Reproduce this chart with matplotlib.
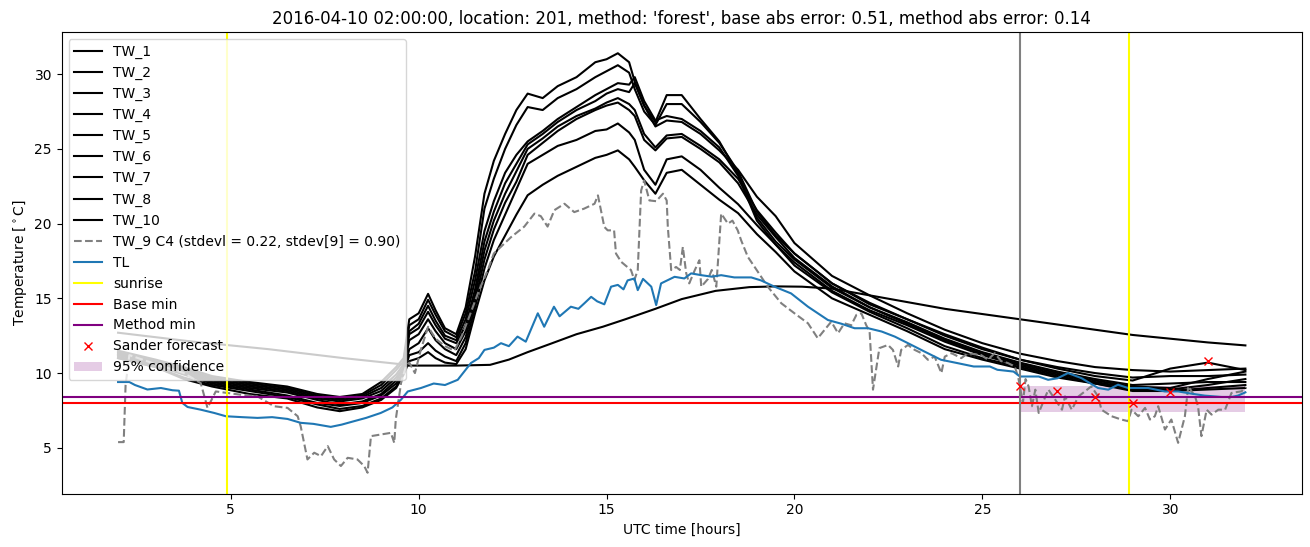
import matplotlib
matplotlib.use("Agg")
import matplotlib.pyplot as plt

# ---------------- data ----------------
tw_x = [2.0, 3.0, 3.75, 4.5, 5.5, 6.5, 7.3, 7.9, 8.5, 9.0,
        9.4, 9.6, 9.75, 10.0, 10.25, 10.45, 10.7, 11.0, 11.25, 11.5,
        11.75, 12.0, 12.3, 12.6, 12.9, 13.3, 13.7, 14.2, 14.7, 15.0,
        15.3, 15.6, 15.75, 16.0, 16.3, 16.6, 17.0, 17.5, 18.0, 18.5,
        19.0, 19.5, 20.0, 21.0, 22.0, 23.0, 24.0, 25.0, 26.0, 27.0,
        28.0, 29.0, 30.0, 31.0, 32.0]

tw_1 = [11.5, 10.9, 10.4, 9.8, 9.4, 9.1, 8.6, 8.4, 8.6, 9.4,
        10.4, 11.0, 13.6, 14.0, 15.3, 14.2, 13.0, 12.6, 14.4, 17.8,
        22.0, 24.2, 26.0, 27.6, 28.7, 28.4, 29.2, 29.8, 30.8, 31.0,
        31.4, 30.8, 29.5, 27.9, 26.8, 28.6, 28.6, 27.0, 25.5, 23.3,
        20.4, 18.8, 17.6, 15.7, 14.4, 13.4, 12.3, 11.4, 10.7, 10.1,
        9.6, 9.2, 9.3, 9.4, 9.4]
tw_2 = [11.4, 10.8, 10.3, 9.7, 9.3, 9.0, 8.5, 8.3, 8.5, 9.2,
        10.2, 10.8, 13.2, 13.6, 14.9, 13.9, 12.8, 12.4, 14.0, 16.8,
        21.0, 23.0, 25.0, 26.6, 27.8, 27.6, 28.4, 29.0, 29.8, 30.2,
        30.6, 30.1, 29.0, 27.5, 26.6, 28.0, 28.0, 26.8, 25.4, 23.5,
        20.8, 19.2, 18.0, 16.0, 14.7, 13.6, 12.6, 11.7, 10.9, 10.3,
        9.8, 9.5, 10.3, 10.7, 10.2]
tw_3 = [11.3, 10.7, 10.2, 9.6, 9.2, 8.9, 8.4, 8.2, 8.4, 9.0,
        9.9, 10.6, 12.8, 13.3, 14.5, 13.5, 12.5, 12.2, 13.6, 16.2,
        19.5, 21.5, 23.4, 24.6, 25.5, 26.2, 27.0, 27.8, 28.6, 29.0,
        29.4, 29.3, 29.8, 28.2, 26.9, 27.2, 27.0, 26.2, 25.1, 23.2,
        20.2, 18.6, 17.4, 15.5, 14.2, 13.2, 12.1, 11.2, 10.5, 9.9,
        9.4, 9.0, 8.9, 9.2, 9.6]
tw_4 = [11.3, 10.7, 10.1, 9.5, 9.1, 8.8, 8.3, 8.1, 8.3, 8.8,
        9.7, 10.4, 12.6, 13.0, 14.1, 13.2, 12.3, 12.0, 13.2, 15.6,
        18.8, 20.8, 22.7, 24.0, 25.3, 26.0, 26.8, 27.6, 28.2, 28.7,
        29.0, 28.8, 29.4, 27.9, 26.5, 26.9, 26.8, 26.0, 24.9, 23.6,
        21.8, 20.5, 18.7, 16.5, 15.2, 14.0, 12.9, 12.0, 11.3, 10.8,
        10.4, 10.2, 10.1, 10.2, 10.3]
tw_5 = [11.2, 10.6, 10.0, 9.4, 9.0, 8.7, 8.2, 7.9, 8.1, 8.6,
        9.5, 10.3, 12.2, 12.6, 13.6, 12.8, 12.0, 11.6, 12.8, 15.2,
        18.2, 20.2, 22.0, 23.5, 25.0, 25.7, 26.5, 27.2, 27.7, 28.1,
        28.4, 28.0, 27.6, 26.0, 25.1, 25.9, 26.0, 25.2, 24.3, 23.0,
        20.9, 19.4, 18.0, 16.0, 14.6, 13.6, 12.5, 11.6, 10.9, 10.4,
        10.0, 9.7, 9.8, 9.8, 9.9]
tw_6 = [11.1, 10.5, 9.9, 9.3, 8.9, 8.5, 8.0, 7.8, 8.0, 8.5,
        9.3, 10.1, 11.6, 12.0, 13.0, 12.2, 11.6, 11.2, 12.4, 14.8,
        17.6, 19.6, 21.4, 22.8, 24.6, 25.4, 26.2, 27.0, 27.6, 27.9,
        28.1, 27.6, 27.2, 25.6, 24.9, 25.7, 25.8, 25.0, 24.1, 22.7,
        20.6, 19.1, 17.7, 15.8, 14.4, 13.3, 12.2, 11.3, 10.6, 10.0,
        9.5, 9.1, 9.0, 9.6, 10.1]
tw_7 = [11.0, 10.4, 9.7, 9.2, 8.8, 8.4, 7.9, 7.6, 7.8, 8.3,
        9.1, 10.0, 11.2, 11.4, 12.0, 11.5, 11.1, 10.8, 12.0, 14.4,
        17.0, 18.9, 20.6, 22.3, 24.0, 24.6, 25.2, 25.6, 26.2, 26.3,
        26.7, 26.1, 25.6, 23.6, 22.6, 24.3, 24.5, 23.6, 22.4, 21.3,
        19.9, 18.6, 17.2, 15.4, 14.1, 13.0, 11.8, 11.0, 10.4, 9.8,
        9.3, 8.9, 8.8, 9.0, 9.2]
tw_8 = [11.0, 10.4, 9.6, 9.1, 8.6, 8.3, 7.7, 7.45, 7.7, 8.2,
        9.0, 9.9, 10.8, 11.0, 11.4, 11.0, 10.7, 10.6, 11.6, 14.0,
        16.2, 17.8, 19.2, 20.6, 21.9, 22.6, 23.2, 23.8, 24.4, 24.6,
        24.9, 24.3, 23.8, 22.9, 22.0, 23.4, 23.6, 22.6, 21.6, 20.7,
        19.3, 18.1, 16.8, 15.0, 13.9, 12.8, 11.6, 10.9, 10.3, 9.7,
        9.3, 8.8, 8.8, 8.9, 9.0]

tw_10_x = [2.0, 4.0, 6.0, 8.0, 9.5, 9.7, 11.0, 11.9, 12.4, 12.9,
           13.5, 14.2, 14.9, 15.5, 16.3, 17.0, 17.9, 18.8, 19.5, 20.2,
           21.0, 22.0, 23.0, 24.0, 25.0, 26.0, 27.0, 28.0, 29.0, 30.0,
           31.0, 32.0]
tw_10 = [12.7, 12.1, 11.6, 11.0, 10.6, 10.5, 10.5, 10.55, 10.9, 11.4,
         11.95, 12.6, 13.1, 13.6, 14.3, 14.95, 15.5, 15.75, 15.8, 15.78,
         15.65, 15.2, 14.75, 14.3, 13.95, 13.6, 13.25, 12.9, 12.55, 12.3,
         12.05, 11.85]

tw_9_x = [2.0, 2.15, 2.2, 2.3, 3.0, 3.75, 4.2, 4.38, 4.6, 5.27,
          5.71, 6.15, 6.51, 6.78, 6.86, 7.04, 7.22, 7.4, 7.58, 7.75,
          7.93, 8.11, 8.37, 8.55, 8.64, 8.73, 8.99, 9.26, 9.35, 9.39,
          9.53, 9.66, 9.75, 9.9, 10.05, 10.25, 10.45, 10.7, 10.95, 11.15,
          11.35, 11.6, 11.84, 12.0, 12.46, 12.81, 13.08, 13.25, 13.43, 13.61,
          13.88, 14.14, 14.4, 14.68, 14.77, 14.94, 15.03, 15.2, 15.25, 15.39,
          15.65, 15.74, 15.83, 15.92, 16.0, 16.14, 16.32, 16.5, 16.6, 16.63,
          16.72, 16.85, 16.95, 17.03, 17.12, 17.2, 17.35, 17.47, 17.52, 17.7,
          17.8, 17.92, 18.05, 18.23, 18.35, 18.49, 18.58, 18.76, 18.94, 19.29,
          19.65, 20.0, 20.36, 20.62, 20.98, 21.16, 21.33, 21.51, 21.65, 21.78,
          21.91, 22.0, 22.09, 22.26, 22.49, 22.62, 22.76, 22.84, 23.02, 23.2,
          23.38, 23.55, 23.73, 23.91, 24.0, 24.18, 24.44, 24.62, 24.97, 25.15,
          25.33, 25.5, 25.68, 25.86, 25.95, 26.08, 26.15, 26.23, 26.32, 26.41,
          26.5, 26.68, 26.76, 26.94, 27.12, 27.2, 27.38, 27.56, 27.9, 28.08,
          28.17, 28.44, 28.7, 28.88, 28.97, 29.15, 29.33, 29.46, 29.59, 29.68,
          29.86, 30.03, 30.21, 30.39, 30.48, 30.66, 30.74, 30.83, 30.97, 31.1,
          31.28, 31.46, 31.63, 31.9, 32.0]
tw_9 = [5.38, 5.38, 9.2, 11.2, 10.6, 10.0, 9.33, 7.67, 8.77, 8.55,
        8.44, 7.78, 7.67, 7.11, 6.44, 4.22, 4.67, 4.44, 5.11, 4.22,
        3.78, 4.33, 4.22, 3.78, 3.33, 5.78, 5.89, 6.0, 5.33, 6.89,
        9.33, 10.44, 10.7, 10.0, 11.5, 13.1, 12.3, 11.8, 11.5, 12.5,
        13.8, 15.5, 16.9, 18.0, 19.1, 19.8, 20.67, 20.5, 19.8, 20.9,
        21.33, 20.77, 21.0, 21.33, 21.89, 19.78, 19.55, 19.55, 18.0, 17.44,
        16.89, 16.22, 16.9, 22.22, 22.89, 21.55, 21.5, 22.0, 21.55, 19.78,
        16.89, 17.1, 16.9, 18.44, 16.67, 16.0, 16.9, 17.55, 15.78, 16.3,
        16.9, 15.78, 20.67, 20.0, 20.2, 19.55, 18.89, 17.77, 17.1, 15.78,
        14.67, 14.0, 13.33, 12.33, 13.44, 12.67, 13.33, 13.2, 13.9, 14.0,
        13.2, 12.78, 8.89, 11.67, 11.88, 11.55, 10.44, 11.55, 11.88, 11.55,
        11.33, 10.89, 11.1, 10.0, 11.1, 11.33, 11.0, 11.33, 11.2, 10.9,
        11.33, 10.8, 10.67, 10.44, 9.78, 8.0, 9.6, 9.11, 7.78, 8.89,
        7.33, 8.44, 8.89, 8.22, 7.55, 8.44, 7.55, 8.44, 9.11, 8.44,
        7.55, 7.11, 6.89, 6.78, 7.55, 7.11, 7.67, 6.89, 7.11, 7.78,
        6.22, 6.89, 5.33, 7.11, 9.11, 8.44, 7.78, 5.78, 7.55, 7.22,
        7.55, 7.55, 8.67, 8.78, 9.1]

tl_x = [2.0, 2.3, 2.45, 2.78, 3.14, 3.45, 3.62, 3.71, 3.85, 4.2,
        4.56, 4.87, 5.3, 5.71, 6.1, 6.51, 6.86, 7.2, 7.66, 7.95,
        8.28, 8.6, 8.99, 9.3, 9.53, 9.71, 10.06, 10.4, 10.7, 11.04,
        11.39, 11.6, 11.75, 12.0, 12.19, 12.4, 12.63, 12.85, 13.17, 13.34,
        13.6, 13.75, 14.05, 14.25, 14.41, 14.59, 14.75, 14.94, 15.12, 15.3,
        15.45, 15.56, 15.74, 15.83, 15.97, 16.19, 16.32, 16.45, 16.63, 16.81,
        17.07, 17.25, 17.52, 17.8, 18.05, 18.4, 18.85, 19.11, 19.47, 19.91,
        20.36, 20.89, 21.25, 21.6, 21.96, 22.32, 22.67, 23.02, 23.46, 23.9,
        24.33, 24.77, 25.2, 25.4, 25.83, 26.0, 26.5, 26.75, 27.0, 27.28,
        27.64, 28.08, 28.35, 28.61, 28.88, 29.41, 29.86, 30.21, 30.57, 30.92,
        31.37, 31.63, 31.8, 32.0]
tl = [9.4, 9.4, 9.2, 8.9, 9.0, 8.85, 8.82, 8.0, 7.73, 7.55,
      7.33, 7.11, 7.05, 7.0, 7.05, 6.93, 6.67, 6.6, 6.4, 6.55,
      6.78, 7.0, 7.33, 7.7, 8.22, 8.77, 9.0, 9.3, 9.2, 9.55,
      10.67, 11.0, 11.55, 11.7, 12.0, 11.8, 12.44, 12.1, 14.0, 13.1,
      14.44, 13.8, 14.44, 14.3, 14.67, 15.1, 14.8, 14.6, 15.78, 15.9,
      15.6, 16.2, 16.33, 15.55, 16.3, 15.78, 14.55, 16.0, 16.22, 16.44,
      16.33, 16.67, 16.55, 16.45, 16.55, 16.4, 16.4, 16.2, 15.78, 15.33,
      14.44, 13.55, 13.3, 13.0, 13.0, 12.78, 12.44, 12.0, 11.44, 10.89,
      10.67, 10.44, 10.44, 10.22, 10.1, 9.77, 9.77, 9.55, 9.65, 10.0,
      9.66, 9.0, 8.89, 9.22, 9.0, 9.0, 8.77, 8.77, 8.62, 8.49,
      8.4, 8.4, 8.49, 8.71]

sunrise_x = [4.89, 28.9]
forecast_start = 26.0
base_min = 8.03
method_min = 8.41
sander_x = [26, 27, 28, 29, 30, 31]
sander_y = [9.15, 8.82, 8.4, 8.0, 8.7, 10.8]
conf_x = [26.0, 32.0]
conf_low = [7.37, 7.37]
conf_high = [9.11, 9.11]

title = ("2016-04-10 02:00:00, location: 201, method: 'forest', "
         "base abs error: 0.51, method abs error: 0.14")

# ---------------- plot ----------------
fig = plt.figure(figsize=(13.1, 5.47), dpi=100)
ax = fig.add_axes([0.0471, 0.0974, 0.9466, 0.8436])

tw_series = [("TW_1", tw_1), ("TW_2", tw_2), ("TW_3", tw_3), ("TW_4", tw_4),
             ("TW_5", tw_5), ("TW_6", tw_6), ("TW_7", tw_7), ("TW_8", tw_8)]
for name, vals in tw_series:
    ax.plot(tw_x, vals, color="black", label=name)
ax.plot(tw_10_x, tw_10, color="black", label="TW_10")
ax.plot(tw_9_x, tw_9, color="gray", linestyle="--",
        label="TW_9 C4 (stdevl = 0.22, stdev[9] = 0.90)")
ax.plot(tl_x, tl, color="C0", label="TL")
for i, sx in enumerate(sunrise_x):
    ax.axvline(sx, color="yellow", label="sunrise" if i == 0 else None)
ax.axhline(base_min, color="red", label="Base min")
ax.axhline(method_min, color="purple", label="Method min")
ax.axvline(forecast_start, color="gray")
ax.plot(sander_x, sander_y, "x", color="red", label="Sander forecast")
ax.fill_between(conf_x, conf_low, conf_high, color="purple", alpha=0.2,
                linewidth=0, label="95% confidence")

ax.set_title(title)
ax.set_xlabel("UTC time [hours]")
ax.set_ylabel("Temperature [$^\\circ$C]")
ax.legend(loc="upper left")

fig.savefig("out.png", dpi=100)
